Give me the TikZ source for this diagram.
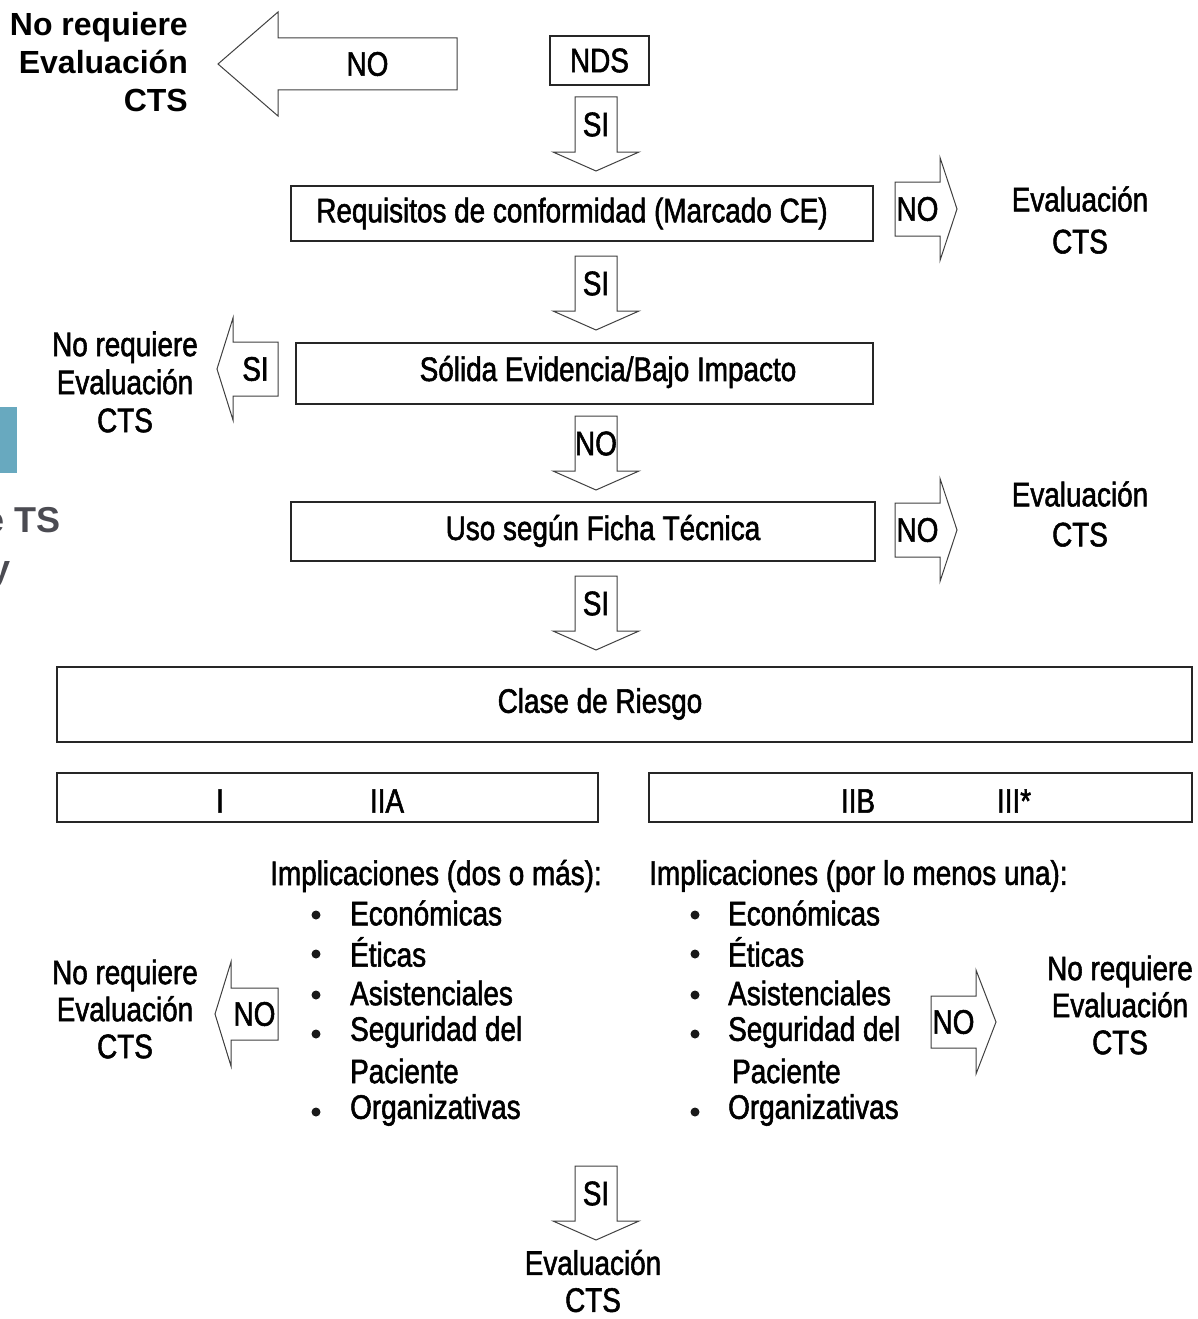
\documentclass[tikz,border=0pt]{standalone}
\usepackage{fontspec}
\setmainfont{Liberation Sans}
\newfontfamily\narrowfont[FakeStretch=0.82,FakeBold=1.6]{Liberation Sans}
\usetikzlibrary{positioning}
\definecolor{slideteal}{HTML}{68A9BF}
\definecolor{slidegray}{HTML}{4B4B52}
\tikzset{%
    box/.style={draw=black!85, line width=1.3pt, inner sep=0pt},
    txt/.style={font=\narrowfont\fontsize{34}{38}\selectfont, inner sep=0pt, align=center},
    bold txt/.style={font=\bfseries\fontsize{32}{38}\selectfont, inner sep=0pt, align=right},
    dot/.style={circle, fill=black!90, inner sep=0pt, minimum size=9pt},
    pics/blkarrow/.style n args={4}{code={%
        \draw[draw=black!75, line width=1pt, fill=white]
            (0,-#2) -- (#1,-#2) -- (#1,-#3) -- ({#1+#4},0) -- (#1,#3) -- (#1,#2) -- (0,#2) -- cycle;
        \node[txt] (-lbl) at ({0.5*#1},0) {\tikzpictext};
    }}
}

\begin{document}
\begin{tikzpicture}[x=1pt,y=-1pt]
    \useasboundingbox (0,0) rectangle (1198,1319);
    % pieces of the slide behind
    \fill[slideteal] (0,407) rectangle (17,473);
    \node[font=\bfseries\fontsize{36}{40}\selectfont, text=slidegray, inner sep=0pt, anchor=east] (slidea) at (61,520) {e TS};
    \node[font=\bfseries\fontsize{36}{40}\selectfont, text=slidegray, inner sep=0pt, anchor=east] (slideb) at (11,575) {y};

    % boxes
    \node[box, minimum width=99pt, minimum height=49pt] (nds) at (599.5,60.5) {};
    \node[txt] (ndslbl) at (nds.center) {NDS};
    \node[box, minimum width=582pt, minimum height=55pt] (req) at (582,213.5) {};
    \node[txt] (reqlbl) at (572,213.5) {Requisitos de conformidad (Marcado CE)};
    \node[box, minimum width=577pt, minimum height=61pt] (sol) at (584.5,373.5) {};
    \node[txt] (sollbl) at (608,372) {Sólida Evidencia/Bajo Impacto};
    \node[box, minimum width=584pt, minimum height=59pt] (uso) at (583,531.5) {};
    \node[txt] (usolbl) at (603,531) {Uso según Ficha Técnica};
    \node[box, minimum width=1135pt, minimum height=75pt] (clase) at (624.5,704.5) {};
    \node[txt] (claselbl) at (600,704) {Clase de Riesgo};
    \node[box, minimum width=541pt, minimum height=49pt] (riskA) at (327.5,797.5) {};
    \node[txt] (riskI) at (220,801) {I};
    \node[txt] (riskIIA) at (387,801) {IIA};
    \node[box, minimum width=543pt, minimum height=49pt] (riskB) at (920.5,797.5) {};
    \node[txt] (riskIIB) at (858,801) {IIB};
    \node[txt] (riskIII) at (1014,801) {III*};

    % block arrows
    \pic[pic text=NO, rotate=180] (noA) at (457,64) {blkarrow={179}{26}{52}{60}};
    \pic[pic text=SI, rotate=-90] (siA) at (596,97) {blkarrow={55}{21}{43}{19}};
    \pic[pic text=NO] (noB) at (895,209) {blkarrow={45}{27}{51.5}{17}};
    \pic[pic text=SI, rotate=-90] (siB) at (596,256) {blkarrow={55}{21}{43}{19}};
    \pic[pic text=SI, rotate=180] (siC) at (278,369) {blkarrow={45}{27}{51}{16}};
    \pic[pic text=NO, rotate=-90] (noC) at (596,416) {blkarrow={55}{21}{43}{19}};
    \pic[pic text=NO] (noD) at (895,530) {blkarrow={45}{27}{51.5}{17}};
    \pic[pic text=SI, rotate=-90] (siD) at (596,576) {blkarrow={55}{21}{43}{19}};
    \pic[pic text=NO, rotate=180] (noE) at (278,1014) {blkarrow={47}{26}{52}{16}};
    \pic[pic text=NO] (noF) at (931,1022) {blkarrow={45}{26}{52}{20}};
    \pic[pic text=SI, rotate=-90] (siE) at (596,1166) {blkarrow={55}{21}{43}{19}};

    % outcomes
    \node[bold txt, anchor=east] (outA) at (188,62) {No requiere\\Evaluación\\CTS};
    \node[txt, font=\narrowfont\fontsize{34}{42}\selectfont] (outB) at (1080,220) {Evaluación\\CTS};
    \node[txt] (outC) at (125,382) {No requiere\\Evaluación\\CTS};
    \node[txt, font=\narrowfont\fontsize{34}{40}\selectfont] (outD) at (1080,514) {Evaluación\\CTS};
    \node[txt, font=\narrowfont\fontsize{34}{37}\selectfont] (outE) at (125,1009) {No requiere\\Evaluación\\CTS};
    \node[txt, font=\narrowfont\fontsize{34}{37}\selectfont] (outF) at (1120,1005) {No requiere\\Evaluación\\CTS};
    \node[txt, font=\narrowfont\fontsize{34}{37}\selectfont] (outG) at (593,1281) {Evaluación\\CTS};

    % implications
    \node[txt, anchor=west] (implA) at (270,876) {Implicaciones (dos o más):};
    \node[txt, anchor=west] (implB) at (649,876) {Implicaciones (por lo menos una):};
    \foreach \y/\item [count=\i] in {913/Económicas, 952/Éticas, 993/Asistenciales, 1032/Seguridad del, 1110/Organizativas} {
        \node[dot] (dotA\i) at (316,\y+2) {};
        \node[txt, anchor=west] (itemA\i) at (350,\y) {\item};
        \node[dot] (dotB\i) at (695,\y+2) {};
        \node[txt, anchor=west] (itemB\i) at (728,\y) {\item};
    }
    \node[txt, anchor=west] (itemA6) at (350,1071) {Paciente};
    \node[txt, anchor=west] (itemB6) at (732,1071) {Paciente};
\end{tikzpicture}
\end{document}
